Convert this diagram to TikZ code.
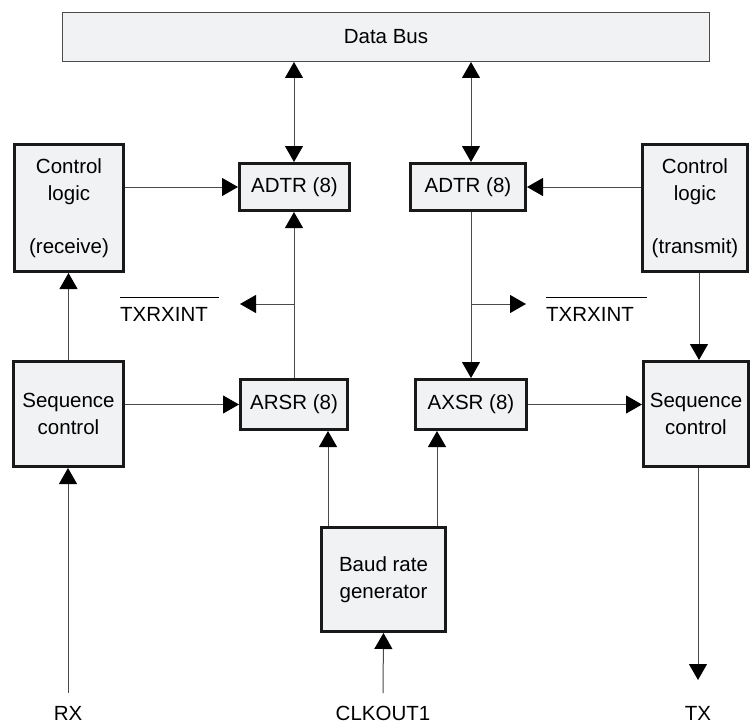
\documentclass[tikz,border=0pt]{standalone}
\usepackage{fontspec}
\setmainfont{Liberation Sans}
\usetikzlibrary{arrows.meta}
\definecolor{boxfill}{HTML}{F1F2F3}
\definecolor{linecol}{HTML}{4A4A4A}
\begin{document}
\begin{tikzpicture}[x=1pt,y=-1pt,
  txt/.style={font=\fontsize{20.5}{26.5}\selectfont},
  blk/.style={txt,draw=black!90,line width=3pt,fill=boxfill,inner sep=0pt,align=center},
  conn/.style={draw=linecol,line width=1pt},
  tip/.style={-{Triangle[length=16pt,width=18pt,black]}},
  dtip/.style={{Triangle[length=16pt,width=18pt,black]}-{Triangle[length=16pt,width=18pt,black]}},
]
\useasboundingbox (0,0) rectangle (753,725);
% blocks
\node[txt,draw=black!70,line width=1pt,fill=boxfill,minimum width=647pt,minimum height=49pt,inner sep=0pt] (bus) at (386,37) {Data Bus};
\node[blk,minimum width=110pt,minimum height=47pt] (adtrL) at (294.5,187) {ADTR (8)};
\node[blk,minimum width=115pt,minimum height=47pt] (adtrR) at (468,187) {ADTR (8)};
\node[blk,minimum width=109pt,minimum height=127pt] (ctlL) at (69,208) {Control\\logic\\[26.5pt](receive)};
\node[blk,minimum width=105pt,minimum height=127pt] (ctlR) at (695,208) {Control\\logic\\[26.5pt](transmit)};
\node[blk,minimum width=110pt,minimum height=105pt] (seqL) at (68.5,414) {Sequence\\control};
\node[blk,minimum width=105pt,minimum height=105pt] (seqR) at (696,414) {Sequence\\control};
\node[blk,minimum width=107pt,minimum height=50pt] (arsr) at (294,404.5) {ARSR (8)};
\node[blk,minimum width=111pt,minimum height=50pt] (axsr) at (471,404.5) {AXSR (8)};
\node[blk,minimum width=124pt,minimum height=104pt] (baud) at (383.5,579.5) {Baud rate\\generator};
% labels
\node[txt,anchor=base west,inner sep=0pt] (txl) at (120,321) {TXRXINT};
\node[txt,anchor=base west,inner sep=0pt] (txr) at (546,321) {TXRXINT};
\node[txt,anchor=base,inner sep=0pt] (rx) at (68,720) {RX};
\node[txt,anchor=base,inner sep=0pt] (clk) at (383,720) {CLKOUT1};
\node[txt,anchor=base,inner sep=0pt] (tx) at (698,720) {TX};
\draw[line width=1pt] (txl.base west |- 0,297) -- (219,297);
\draw[line width=1pt] (txr.base west |- 0,297) -- (647,297);
% coordinates
\coordinate (xL) at (294,0);
\coordinate (xR) at (471,0);
\coordinate (jL) at (294,304);
\coordinate (tL) at (240,304);
\coordinate (jR) at (471,304);
\coordinate (tR) at (526,304);
\coordinate (rxs) at (68,693);
\coordinate (clks) at (383,693);
\coordinate (txe) at (698,680);
\coordinate (cR) at (699,0);
\coordinate (bL) at (328,0);
\coordinate (bR) at (437,0);
% connectors
\draw[conn,dtip] (xL |- adtrL.north) -- (xL |- bus.south);
\draw[conn,dtip] (xR |- adtrR.north) -- (xR |- bus.south);
\draw[conn,tip] (ctlL.east |- adtrL.west) -- (adtrL.west);
\draw[conn,tip] (ctlR.west |- adtrR.east) -- (adtrR.east);
\draw[conn,tip] (xL |- arsr.north) -- (xL |- adtrL.south);
\draw[conn,tip] (jL) -- (tL);
\draw[conn,tip] (xR |- adtrR.south) -- (xR |- axsr.north);
\draw[conn,tip] (jR) -- (tR);
\draw[conn,tip] (seqL.north) -- (seqL.north |- ctlL.south);
\draw[conn,tip] (cR |- ctlR.south) -- (cR |- seqR.north);
\draw[conn,tip] (seqL.east |- arsr.west) -- (arsr.west);
\draw[conn,tip] (axsr.east) -- (seqR.west |- axsr.east);
\draw[conn,tip] (bL |- baud.north) -- (bL |- arsr.south);
\draw[conn,tip] (bR |- baud.north) -- (bR |- axsr.south);
\draw[conn,tip] (clks) -- (baud.south);
\draw[conn,tip] (rxs) -- (rxs |- seqL.south);
\draw[conn,tip] (txe |- seqR.south) -- (txe);
\end{tikzpicture}
\end{document}
